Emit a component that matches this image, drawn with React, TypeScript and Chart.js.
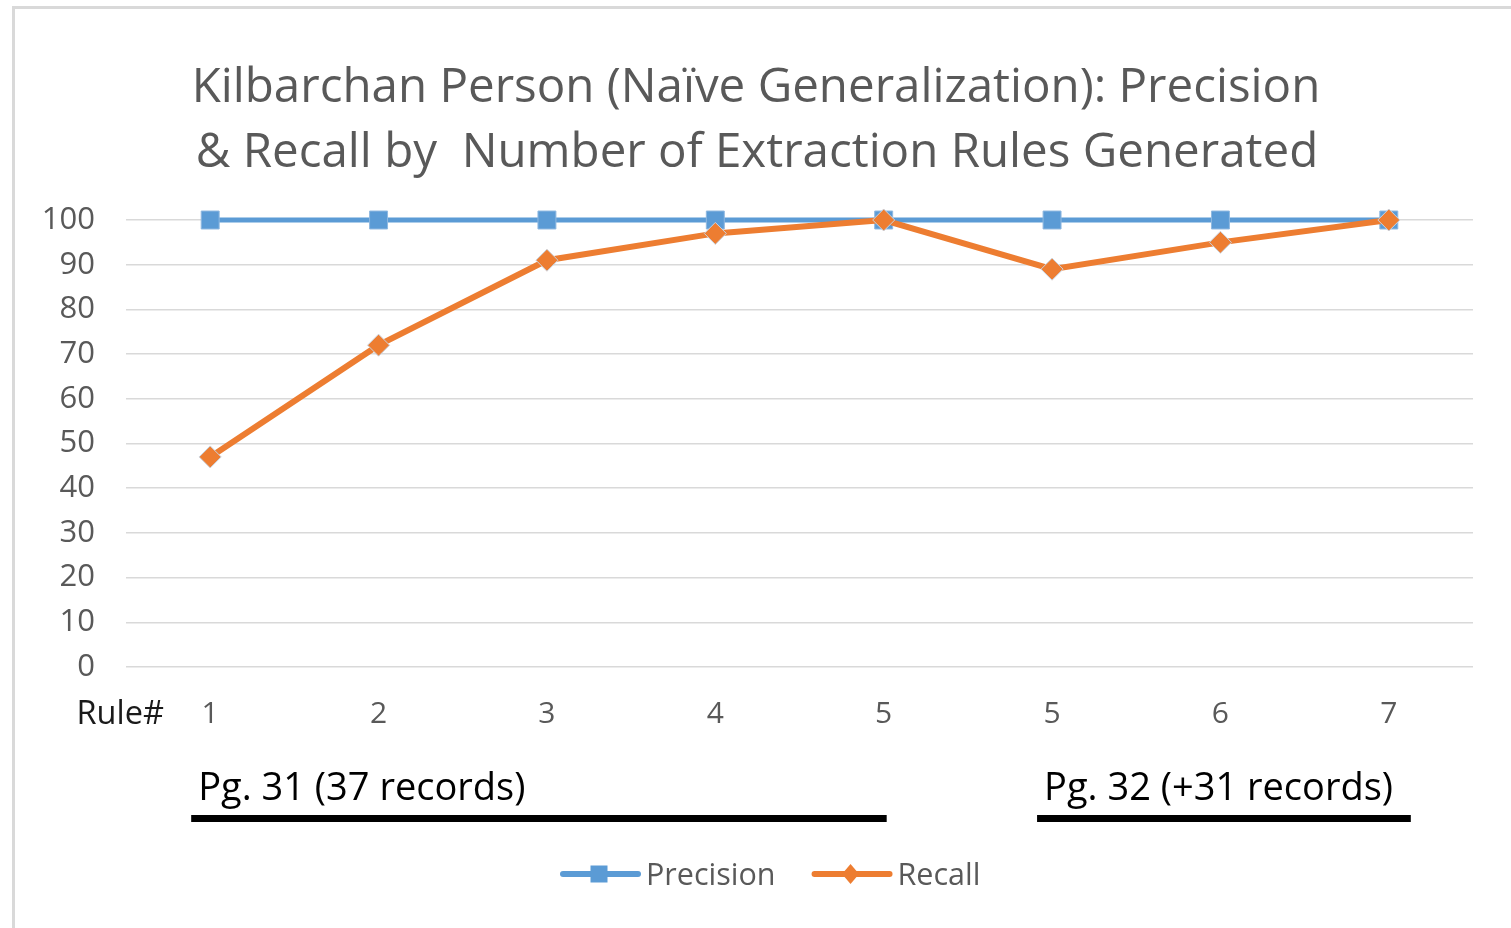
import React, { useEffect, useRef } from "react";
import { Chart, registerables } from "chart.js";

Chart.register(...registerables);

const TITLE_LINES = [
  "Kilbarchan Person (Naïve Generalization): Precision",
  "& Recall by  Number of Extraction Rules Generated",
];
const RULE_LABELS = ["1", "2", "3", "4", "5", "5", "6", "7"];
const PRECISION = [100, 100, 100, 100, 100, 100, 100, 100];
const RECALL = [47, 72, 91, 97, 100, 89, 95, 100];
const Y_MIN = 0;
const Y_MAX = 100;
const Y_STEP = 10;
const AXIS_CAPTION = "Rule#";
const PAGE_LABELS = ["Pg. 31 (37 records)", "Pg. 32 (+31 records)"];
const PAGE_FROM = [0, 5];
const PAGE_TO = [4, 7];

const BLUE = "#5b9bd5";
const ORANGE = "#ed7d31";
const GREY_TEXT = "#595959";
const FONT = "'Open Sans', 'Noto Sans', sans-serif";

const W = 1511;
const H = 928;

function drawMarker(ctx: CanvasRenderingContext2D, style: string, x: number, y: number, color: string) {
  ctx.save();
  ctx.fillStyle = color;
  ctx.beginPath();
  if (style === "rect") {
    ctx.rect(x - 8.5, y - 8.5, 17, 17);
  } else {
    ctx.moveTo(x, y - 10);
    ctx.lineTo(x + 8.5, y);
    ctx.lineTo(x, y + 10);
    ctx.lineTo(x - 8.5, y);
    ctx.closePath();
  }
  ctx.fill();
  ctx.restore();
}

const decorPlugin = {
  id: "decor",
  beforeDraw(chart: any) {
    const ctx = chart.ctx as CanvasRenderingContext2D;
    ctx.save();
    ctx.fillStyle = "#ffffff";
    ctx.fillRect(0, 0, chart.width, chart.height);
    ctx.strokeStyle = "#d9d9d9";
    ctx.lineWidth = 3;
    ctx.strokeRect(13.5, 7.5, 3000, 3000);
    ctx.restore();
  },
  afterDraw(chart: any) {
    const ctx = chart.ctx as CanvasRenderingContext2D;
    const xs = chart.scales.x;
    ctx.save();
    // title
    ctx.fillStyle = GREY_TEXT;
    ctx.font = `47.5px ${FONT}`;
    ctx.textAlign = "center";
    ctx.textBaseline = "alphabetic";
    ctx.fillText(TITLE_LINES[0], 756, 102);
    ctx.fillText(TITLE_LINES[1], 757, 167);

    // axis caption
    ctx.fillStyle = "#1a1a1a";
    ctx.font = `32.5px ${FONT}`;
    ctx.textAlign = "right";
    ctx.fillText(AXIS_CAPTION, 164, 724);

    // page groups
    const startPad = [-19, -15];
    const endPad = [3, 22];
    for (let i = 0; i < PAGE_LABELS.length; i++) {
      const x0 = xs.getPixelForValue(PAGE_FROM[i]) + startPad[i];
      const x1 = xs.getPixelForValue(PAGE_TO[i]) + endPad[i];
      ctx.fillStyle = "#000000";
      ctx.fillRect(x0, 815, x1 - x0, 7);
      ctx.font = `38px ${FONT}`;
      ctx.textAlign = "left";
      ctx.fillText(PAGE_LABELS[i], x0 + 7, 800);
    }

    // legend
    const items = [
      { label: chart.data.datasets[0].label, color: BLUE, style: "rect" },
      { label: chart.data.datasets[1].label, color: ORANGE, style: "rectRot" },
    ];
    ctx.font = `30.5px ${FONT}`;
    let x = 560;
    const y = 874;
    for (const it of items) {
      ctx.strokeStyle = it.color;
      ctx.lineWidth = 6;
      ctx.lineCap = "round";
      ctx.beginPath();
      ctx.moveTo(x + 3, y);
      ctx.lineTo(x + 78, y);
      ctx.stroke();
      drawMarker(ctx, it.style, x + 39, y, it.color);
      ctx.fillStyle = GREY_TEXT;
      ctx.textAlign = "left";
      ctx.fillText(it.label, x + 86, 885);
      x += 86 + ctx.measureText(it.label).width + 36;
    }
    ctx.restore();
  },
};

export default function App() {
  const ref = useRef<HTMLCanvasElement | null>(null);
  useEffect(() => {
    if (!ref.current) return;
    const chart = new Chart(ref.current, {
      type: "line",
      data: {
        labels: RULE_LABELS,
        datasets: [
          {
            label: "Precision",
            data: PRECISION,
            borderColor: BLUE,
            backgroundColor: BLUE,
            borderWidth: 5,
            pointStyle: "rect",
            pointRadius: 12.7,
            pointBorderWidth: 1,
            pointBorderColor: "#8fb8e0",
            pointBackgroundColor: BLUE,
            tension: 0,
            clip: false,
            order: 1,
          },
          {
            label: "Recall",
            data: RECALL,
            borderColor: ORANGE,
            backgroundColor: ORANGE,
            borderWidth: 6,
            pointStyle: "rectRot",
            pointRadius: 11,
            pointBorderWidth: 1,
            pointBorderColor: "#c9d3e0",
            pointBackgroundColor: ORANGE,
            tension: 0,
            clip: false,
            order: 0,
          },
        ],
      },
      options: {
        responsive: false,
        animation: false,
        layout: { padding: { top: 220, right: 38, bottom: 201, left: 0 } },
        plugins: {
          legend: { display: false },
          title: { display: false },
          tooltip: { enabled: false },
        },
        scales: {
          x: {
            offset: true,
            grid: { display: false, drawTicks: false },
            border: { display: false },
            ticks: {
              color: GREY_TEXT,
              font: { family: FONT, size: 30 },
              padding: 29,
              maxRotation: 0,
              autoSkip: false,
            },
            afterFit: (s: any) => {
              s.height = 60;
            },
          },
          y: {
            min: Y_MIN,
            max: Y_MAX,
            grid: { color: "#d9d9d9", lineWidth: 1.5, drawTicks: false },
            border: { display: false },
            ticks: {
              stepSize: Y_STEP,
              color: GREY_TEXT,
              font: { family: FONT, size: 31 },
              padding: 31,
            },
            afterFit: (s: any) => {
              s.width = 126;
            },
          },
        },
      },
      plugins: [decorPlugin],
    });
    return () => chart.destroy();
  }, []);
  return (
    <div style={{ position: "absolute", left: 0, top: 0, width: W, height: H, overflow: "hidden" }}>
      <canvas ref={ref} width={W} height={H} style={{ display: "block" }} />
    </div>
  );
}
